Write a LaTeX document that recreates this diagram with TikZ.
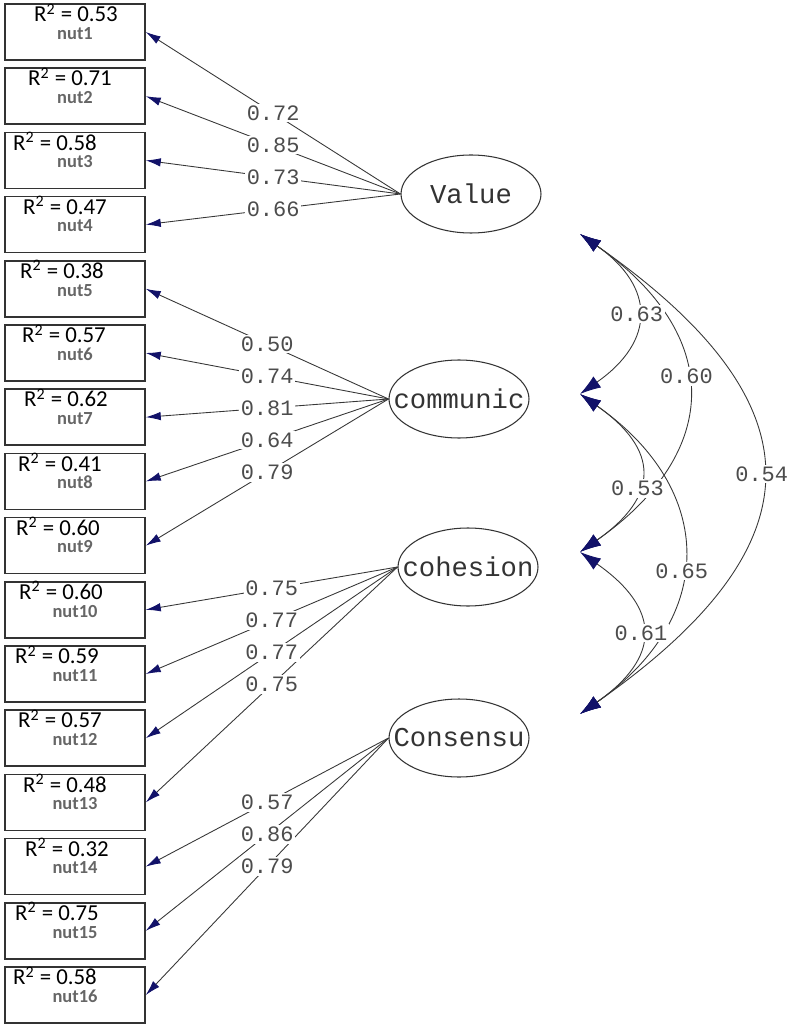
\documentclass[tikz,border=0pt]{standalone}
\usepackage{fontspec}
\setmainfont{Carlito}
\newfontfamily\coeffont{Liberation Mono}
\usetikzlibrary{shapes.geometric,arrows.meta}

\definecolor{tipnavy}{RGB}{18,18,105}
\definecolor{linegray}{RGB}{55,55,55}

\tikzset{
  indbox/.style={draw=black!80, line width=0.9pt, minimum width=2.8cm, minimum height=1.12cm, inner sep=0pt},
  rsq/.style={font=\fontsize{13}{15}\selectfont, anchor=base, inner sep=0pt},
  indname/.style={font=\fontsize{10.5}{12}\selectfont\bfseries, text=black!60, anchor=base, inner sep=0pt},
  latent/.style={ellipse, draw=black!80, line width=0.6pt, minimum width=2.8cm, minimum height=1.56cm, inner sep=0pt},
  lvtext/.style={font=\coeffont\fontsize{15.5}{18}\selectfont, text=black!80, inner sep=0pt},
  loading/.style={draw=linegray, line width=0.5pt, -{Latex[length=0.3cm,width=0.17cm,color=tipnavy]}},
  covar/.style={draw=linegray, line width=0.5pt,
    {Latex[length=0.42cm,width=0.27cm,color=tipnavy]}-{Latex[length=0.42cm,width=0.27cm,color=tipnavy]}},
  coef/.style={font=\coeffont\fontsize{12.5}{14}\selectfont, text=black!70, fill=white, inner sep=1pt},
}

\begin{document}
\begin{tikzpicture}[x=0.02cm, y=0.02cm]
    \useasboundingbox (0,0) rectangle (787,-1026);

    % observed indicators
    \foreach \i/\r/\dx in {1/0.53/1, 2/0.71/-5, 3/0.58/-20, 4/0.47/-10, 5/0.38/-13, 6/0.57/-11,
                           7/0.62/-9, 8/0.41/-15, 9/0.60/-17, 10/0.60/-14, 11/0.59/-18, 12/0.57/-15,
                           13/0.48/-10, 14/0.32/-8, 15/0.75/-18, 16/0.58/-20} {
        \node[indbox] (n\i) at (75,{-32-64.2*(\i-1)}) {};
        \node[rsq] (r\i) at ([xshift=\dx*0.02cm, yshift=-0.37cm]n\i.north) {R\textsuperscript{2} = \r};
        \node[indname] (nm\i) at ([yshift=-0.72cm]n\i.north) {nut\i};
    }

    % latent variables
    \node[latent, label={[lvtext]center:Value}] (val) at (471,-194) {};
    \node[latent, label={[lvtext]center:communic}] (com) at (459,-399) {};
    \node[latent, label={[lvtext]center:cohesion}] (coh) at (468,-567) {};
    \node[latent, label={[lvtext]center:Consensu}] (cns) at (459,-738) {};

    % loadings
    \foreach \lv/\i in {val/1, val/2, val/3, val/4, com/5, com/6, com/7, com/8, com/9,
                        coh/10, coh/11, coh/12, coh/13, cns/14, cns/15, cns/16}
        \draw[loading] (\lv.west) -- (n\i.east);
    \foreach \lv/\i/\c in {val/1/0.72, val/2/0.85, val/3/0.73, val/4/0.66,
                           com/5/0.50, com/6/0.74, com/7/0.81, com/8/0.64, com/9/0.79,
                           coh/10/0.75, coh/11/0.77, coh/12/0.77, coh/13/0.75,
                           cns/14/0.57, cns/15/0.86, cns/16/0.79}
        \path (\lv.west) -- node[coef, pos=0.5] (k\i) {\c} (n\i.east);

    % covariance ends
    \coordinate (cv1) at (580,-234);
    \coordinate (cv2) at (580,-394);
    \coordinate (cv3) at (580,-552);
    \coordinate (cv4) at (580,-714);

    \foreach \a/\b/\l in {1/2/1.48, 1/3/1.41, 1/4/1.58, 2/3/1.58, 2/4/1.34, 3/4/1.57}
        \draw[covar] (cv\a) to[out=-35, in=35, looseness=\l] (cv\b);
    \foreach \a/\b/\l/\c/\p in {1/2/1.48/0.63/0.5, 1/3/1.41/0.60/0.45, 1/4/1.58/0.54/0.5,
                                2/3/1.58/0.53/0.6, 2/4/1.34/0.65/0.55, 3/4/1.57/0.61/0.5}
        \path (cv\a) to[out=-35, in=35, looseness=\l] node[coef, pos=\p] (q\a\b) {\c} (cv\b);

\end{tikzpicture}
\end{document}
